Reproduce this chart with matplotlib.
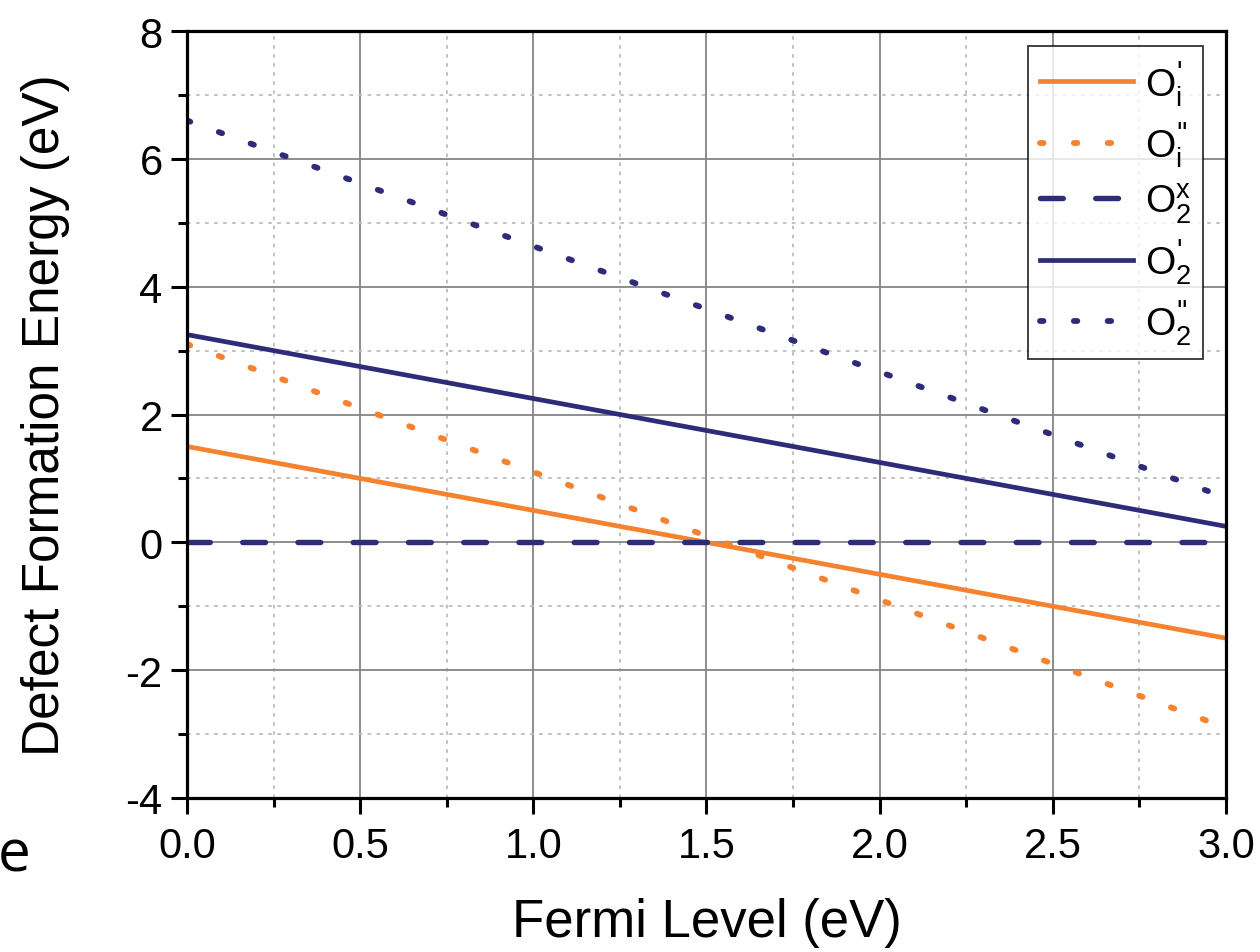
import numpy as np
import matplotlib
matplotlib.use('Agg')
import matplotlib.pyplot as plt
from matplotlib.ticker import MultipleLocator, FormatStrFormatter

plt.rcParams['font.family'] = ['Liberation Sans', 'DejaVu Sans']
plt.rcParams['mathtext.default'] = 'regular'
plt.rcParams['axes.unicode_minus'] = False

# data
fermi = [0.0, 3.0]
oi_1 = [1.5, -1.5]
oi_2 = [3.1, -2.9]
o2_x = [0.0, 0.0]
o2_1 = [3.25, 0.25]
o2_2 = [6.6, 0.7]

labels = [r"O$_i^{\text{'}}$", r'O$_i^{\text{"}}$', r"O$_2^x$",
          r"O$_2^{\text{'}}$", r'O$_2^{\text{"}}$']
orange = '#F5822F'
navy = '#2E2B78'

fig = plt.figure(figsize=(12.6, 9.53), dpi=100)
ax = fig.add_axes([0.1484, 0.1616, 0.8246, 0.8048])

lw = 3.4
dot = (0, (0.6, 5.2))
ax.plot(fermi, oi_1, color=orange, lw=lw, label=labels[0])
ax.plot(fermi, oi_2, color=orange, lw=4.2, linestyle=dot,
        dash_capstyle='round', label=labels[1])
ax.plot(fermi, o2_x, color=navy, lw=3.9, linestyle=(0, (4.2, 6.0)),
        dash_capstyle='round', label=labels[2])
ax.plot(fermi, o2_1, color=navy, lw=lw, label=labels[3])
ax.plot(fermi, o2_2, color=navy, lw=4.2, linestyle=dot,
        dash_capstyle='round', label=labels[4])

ax.set_xlim(0, 3.0)
ax.set_ylim(-4, 8)
ax.xaxis.set_major_locator(MultipleLocator(0.5))
ax.xaxis.set_minor_locator(MultipleLocator(0.25))
ax.yaxis.set_major_locator(MultipleLocator(2))
ax.yaxis.set_minor_locator(MultipleLocator(1))
ax.xaxis.set_major_formatter(FormatStrFormatter('%.1f'))

ax.grid(which='major', color='#858585', lw=1.3)
ax.grid(which='minor', color='#bdbdbd', lw=1.3, linestyle=(0, (2, 3)))
ax.set_axisbelow(True)

for s in ax.spines.values():
    s.set_linewidth(2.3)
ax.tick_params(which='major', direction='out', length=11.5, width=2.2,
               labelsize=30, pad=6)
ax.tick_params(which='minor', direction='out', length=6.5, width=2.2)
ax.tick_params(axis='x', pad=9)

ax.set_xlabel('Fermi Level (eV)', fontsize=38, labelpad=22)
ax.set_ylabel('Defect Formation Energy (eV)', fontsize=37, labelpad=40)

leg = ax.legend(loc='upper right', bbox_to_anchor=(0.978, 0.98), fontsize=28,
                frameon=True, fancybox=False, edgecolor='black',
                handlelength=2.4, handletextpad=0.3, labelspacing=0.3,
                borderpad=0.3, borderaxespad=0)
leg.get_frame().set_linewidth(1.3)

# stray letter from the original slide
fig.text(-0.002, 0.085, 'e', fontsize=42, family=['Open Sans', 'DejaVu Sans'])

fig.savefig('out.png', dpi=100)
